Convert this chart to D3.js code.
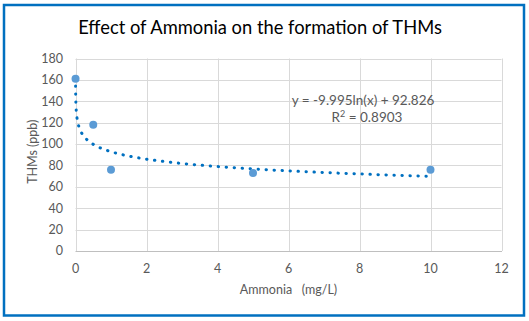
<!DOCTYPE html>
<html>
<head>
<meta charset="utf-8">
<script src="https://cdn.jsdelivr.net/npm/d3@7"></script>
<style>
  body { margin: 0; background: #fff; }
  svg { display: block; font-family: Lato, "Liberation Sans", sans-serif; }
</style>
</head>
<body>
<svg id="chart"></svg>
<script>
// Data
const ammonia = [0.001, 0.5, 1, 5, 10];   // mg/L
const thms = [161, 118, 76, 73, 76];      // ppb
const xTicks = [0, 2, 4, 6, 8, 10, 12];
const yTicks = [0, 20, 40, 60, 80, 100, 120, 140, 160, 180];
// log trendline shown on the chart
const trendA = -9.995;
const trendB = 92.826;
const trendLabel = "y = -9.995ln(x) + 92.826";
const r2Label = "0.8903";

const width = 529;
const height = 321;
const plot = { left: 75.5, right: 501.5, top: 58.5, bottom: 251 };

const svg = d3.select("#chart").attr("width", width).attr("height", height);

// chart border
svg.append("rect")
  .attr("x", 4).attr("y", 5)
  .attr("width", 520).attr("height", 310.5)
  .attr("fill", "#fff")
  .attr("stroke", "#0070C0")
  .attr("stroke-width", 2.5);

const x = d3.scaleLinear().domain([0, 12]).range([plot.left, plot.right]);
const y = d3.scaleLinear().domain([0, 180]).range([plot.bottom, plot.top]);

// gridlines
const grid = svg.append("g");
grid.selectAll("line.h")
  .data(yTicks.filter((d) => d > 0))
  .enter()
  .append("line")
  .attr("x1", plot.left).attr("x2", plot.right)
  .attr("y1", (d) => Math.round(y(d)) + 0.5)
  .attr("y2", (d) => Math.round(y(d)) + 0.5)
  .attr("stroke", "#d9d9d9");
grid.selectAll("line.v")
  .data(xTicks)
  .enter()
  .append("line")
  .attr("x1", (d) => Math.round(x(d)) + 0.5)
  .attr("x2", (d) => Math.round(x(d)) + 0.5)
  .attr("y1", plot.top).attr("y2", plot.bottom)
  .attr("stroke", "#d9d9d9");

// x axis line
svg.append("line")
  .attr("x1", plot.left).attr("x2", plot.right + 0.5)
  .attr("y1", Math.round(y(0)) + 0.5).attr("y2", Math.round(y(0)) + 0.5)
  .attr("stroke", "#bfbfbf");

// tick labels
svg.append("g").selectAll("text")
  .data(yTicks)
  .enter()
  .append("text")
  .attr("x", 63)
  .attr("y", (d) => y(d))
  .attr("dy", "0.35em")
  .attr("text-anchor", "end")
  .attr("font-size", 12.5)
  .attr("fill", "#595959")
  .text((d) => d);

svg.append("g").selectAll("text")
  .data(xTicks)
  .enter()
  .append("text")
  .attr("x", (d) => x(d))
  .attr("y", 273)
  .attr("text-anchor", "middle")
  .attr("font-size", 12.5)
  .attr("fill", "#595959")
  .text((d) => d);

// axis titles
svg.append("text")
  .attr("x", (plot.left + plot.right) / 2)
  .attr("y", 294)
  .attr("text-anchor", "middle")
  .attr("font-size", 12.5)
  .attr("fill", "#595959")
  .attr("xml:space", "preserve")
  .text("Ammonia   (mg/L)");

svg.append("text")
  .attr("transform", "translate(37," + ((plot.top + plot.bottom) / 2 - 3) + ") rotate(-90)")
  .attr("text-anchor", "middle")
  .attr("font-size", 12.5)
  .attr("fill", "#595959")
  .text("THMs (ppb)");

// title, fitted to the width seen in the picture
const title = svg.append("text")
  .attr("x", 260)
  .attr("y", 34)
  .attr("text-anchor", "middle")
  .attr("font-size", 20)
  .attr("fill", "#000")
  .text("Effect of Ammonia on the formation of THMs");
const tw = title.node().getComputedTextLength();
title.attr("font-size", 20 * 364 / tw);

// trendline
const xMin = d3.min(ammonia), xMax = d3.max(ammonia);
const trendX = d3.range(0, 1.0001, 1 / 600).map((t) => xMin * Math.pow(xMax / xMin, t));
const line = d3.line()
  .x((d) => x(d))
  .y((d) => y(trendA * Math.log(d) + trendB))
  .curve(d3.curveMonotoneX);
svg.append("path")
  .datum(trendX)
  .attr("d", line)
  .attr("fill", "none")
  .attr("stroke", "#0070C0")
  .attr("stroke-width", 3)
  .attr("stroke-linecap", "round")
  .attr("stroke-dasharray", "0.4 7.6");

// points
svg.append("g").selectAll("circle")
  .data(ammonia)
  .enter()
  .append("circle")
  .attr("cx", (d) => x(d))
  .attr("cy", (d, i) => y(thms[i]))
  .attr("r", 4)
  .attr("fill", "#5B9BD5");

// equation label
svg.append("text")
  .attr("x", 363)
  .attr("y", 105)
  .attr("text-anchor", "middle")
  .attr("font-size", 13.5)
  .attr("fill", "#595959")
  .text(trendLabel);

const r2 = svg.append("text")
  .attr("x", 367)
  .attr("y", 122)
  .attr("text-anchor", "middle")
  .attr("font-size", 13.5)
  .attr("fill", "#595959");
r2.append("tspan").text("R");
r2.append("tspan").attr("dy", -5).attr("font-size", 9).text("2");
r2.append("tspan").attr("dy", 5).text(" = " + r2Label);
</script>
</body>
</html>
